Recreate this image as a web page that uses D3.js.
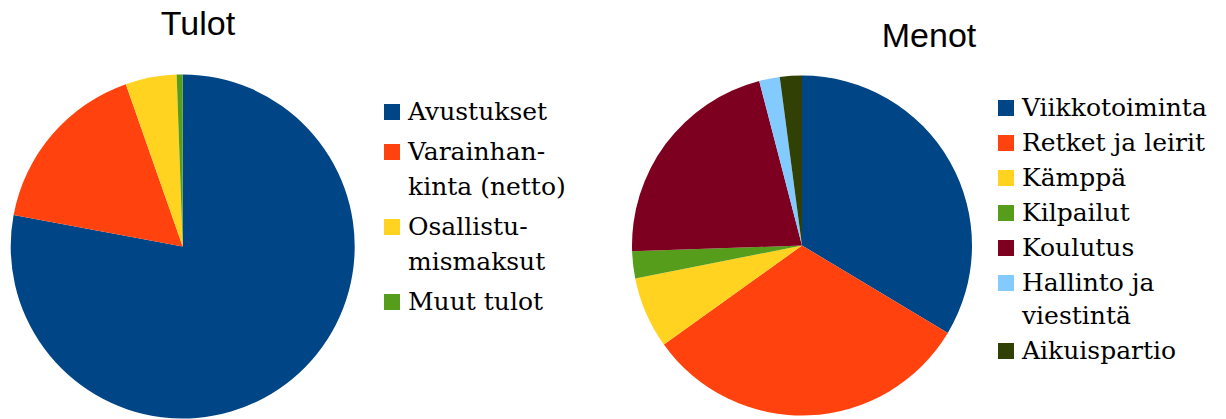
<!DOCTYPE html>
<html>
<head>
<meta charset="utf-8">
<script src="https://cdn.jsdelivr.net/npm/d3@7"></script>
<style>
  body { margin: 0; background: #fff; }
  svg { display: block; }
  .leg { font-family: "DejaVu Serif", "DejaVu Sans", sans-serif; }
</style>
</head>
<body>
<svg id="chart" width="1226" height="419"></svg>
<script>
// tulot (income) shares, %
const tuloLabels = ["Avustukset", "Varainhan-\nkinta (netto)", "Osallistu-\nmismaksut", "Muut tulot"];
const tuloValues = [77.9, 16.7, 4.8, 0.56];

// menot (expenses) shares, %
const menoLabels = ["Viikkotoiminta", "Retket ja leirit", "Kämppä", "Kilpailut", "Koulutus", "Hallinto ja\nviestintä", "Aikuispartio"];
const menoValues = [33.6, 31.5, 6.8, 2.56, 21.5, 1.96, 2.09];

const colors = ["#004586", "#ff420e", "#ffd320", "#579d1c", "#7e0021", "#83caff", "#314004"];

const svg = d3.select("#chart");

function drawPie(o) {
  const data = o.labels.map((l, i) => ({ name : l, value : o.values[ i ] }));
  const pie = d3.pie().sort(null).value(d => d.value);
  const arc = d3.arc().innerRadius(0).outerRadius(o.r);
  const color = d3.scaleOrdinal().domain(o.labels).range(colors);

  const g = svg.append("g")
    .attr("transform", `translate(${o.cx},${o.cy})`);
  g.selectAll("path")
    .data(pie(data))
    .enter()
    .append("path")
    .attr("d", arc)
    .attr("fill", d => color(d.data.name));

  svg.append("text")
    .attr("x", o.titleX)
    .attr("y", o.titleY)
    .attr("text-anchor", "middle")
    .attr("font-family", "Liberation Sans, Arial, sans-serif")
    .attr("font-size", "34px")
    .attr("fill", "#000")
    .text(o.title);

  // legend, items can wrap on several lines
  const lg = svg.append("g")
    .attr("transform", `translate(${o.legX},${o.legY})`);
  let y = 0;
  data.forEach(d => {
    const lines = d.name.split("\n");
    lg.append("rect")
      .attr("x", 0)
      .attr("y", y - 16)
      .attr("width", 16)
      .attr("height", 16)
      .attr("fill", color(d.name));
    const t = lg.append("text")
      .attr("class", "leg")
      .attr("x", 24)
      .attr("y", y)
      .attr("font-size", o.fontSize + "px")
      .attr("fill", "#000");
    lines.forEach((s, j) => {
      t.append("tspan")
        .attr("x", 24)
        .attr("y", y + j * o.lineH)
        .text(s);
    });
    y += (lines.length - 1) * o.lineH + o.itemH;
  });
}

drawPie({
  title : "Tulot", titleX : 198, titleY : 35,
  labels : tuloLabels, values : tuloValues,
  cx : 182.7, cy : 246.5, r : 172,
  legX : 384, legY : 120, itemH : 40, lineH : 35, fontSize : 25
});

drawPie({
  title : "Menot", titleX : 929, titleY : 47,
  labels : menoLabels, values : menoValues,
  cx : 802, cy : 245.5, r : 170,
  legX : 998, legY : 116, itemH : 35, lineH : 33, fontSize : 25
});
</script>
</body>
</html>
